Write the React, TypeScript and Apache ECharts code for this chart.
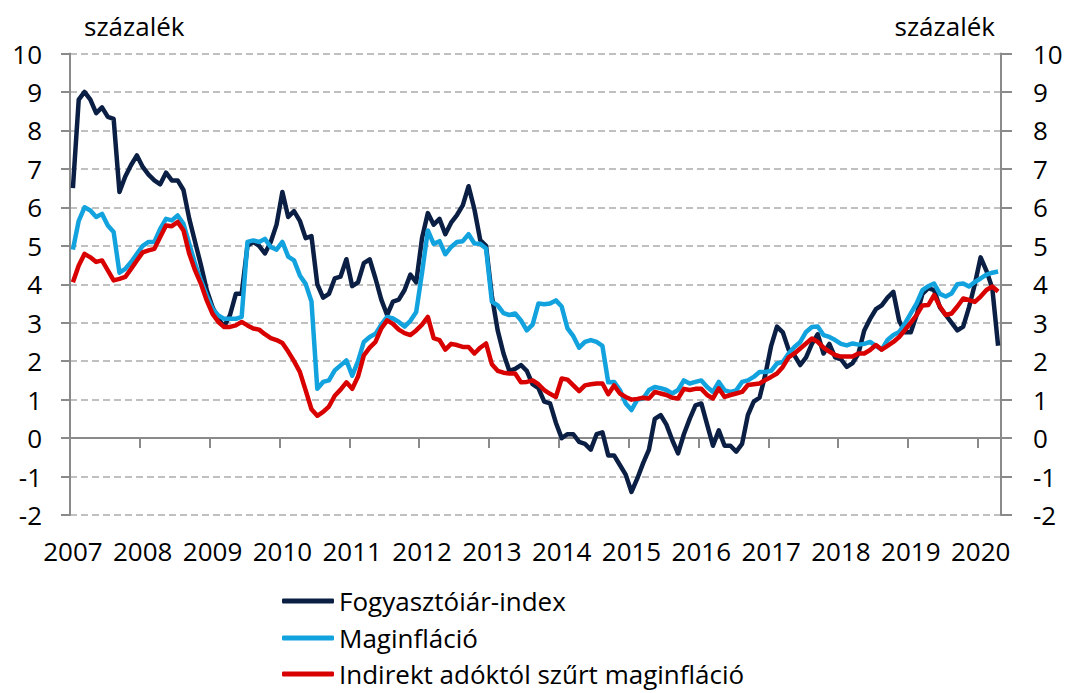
import React, { useEffect, useRef } from "react";
import * as echarts from "echarts";

// Monthly categories: 2007-01 .. 2020-04
const months: string[] = [];
for (let y = 2007; y <= 2020; y++) {
  for (let m = 1; m <= 12; m++) {
    if (y === 2020 && m > 4) break;
    months.push(`${y}-${String(m).padStart(2, "0")}`);
  }
}

const yTicks = [-2, -1, 0, 1, 2, 3, 4, 5, 6, 7, 8, 9, 10];

const seriesNames = [
  "Fogyasztóiár-index",
  "Maginfláció",
  "Indirekt adóktól szűrt maginfláció",
];

// Fogyasztóiár-index
const cpi = [
  6.5, 8.8, 9.0, 8.8, 8.45, 8.6, 8.35, 8.3, 6.4, 6.8, 7.1, 7.35,
  7.05, 6.85, 6.7, 6.6, 6.9, 6.7, 6.7, 6.45, 5.7, 5.1, 4.5, 3.85,
  3.4, 3.1, 2.9, 3.2, 3.75, 3.75, 5.0, 5.1, 5.0, 4.8, 5.1, 5.55,
  6.4, 5.75, 5.9, 5.65, 5.2, 5.25, 4.0, 3.65, 3.75, 4.15, 4.2, 4.65,
  3.95, 4.05, 4.55, 4.65, 4.15, 3.6, 3.2, 3.55, 3.6, 3.85, 4.25, 4.05,
  5.2, 5.85, 5.55, 5.7, 5.3, 5.6, 5.8, 6.05, 6.55, 5.95, 5.15, 5.0,
  3.7, 2.8, 2.2, 1.75, 1.8, 1.9, 1.75, 1.4, 1.3, 0.95, 0.9, 0.4,
  0.0, 0.1, 0.1, -0.1, -0.15, -0.3, 0.1, 0.15, -0.45, -0.45, -0.7, -0.95,
  -1.4, -1.05, -0.65, -0.3, 0.5, 0.6, 0.35, -0.05, -0.4, 0.1, 0.5, 0.85,
  0.9, 0.35, -0.2, 0.2, -0.2, -0.2, -0.35, -0.15, 0.6, 0.95, 1.05, 1.65,
  2.4, 2.9, 2.75, 2.3, 2.15, 1.9, 2.1, 2.45, 2.7, 2.2, 2.45, 2.1,
  2.05, 1.85, 1.95, 2.2, 2.8, 3.1, 3.35, 3.45, 3.65, 3.8, 3.05, 2.75,
  2.75, 3.2, 3.75, 3.9, 3.85, 3.4, 3.2, 3.0, 2.8, 2.9, 3.4, 4.0,
  4.7, 4.35, 3.9, 2.4,
];

// Maginfláció
const core = [
  4.9, 5.65, 6.0, 5.92, 5.75, 5.83, 5.53, 5.36, 4.3, 4.4, 4.58, 4.79,
  5.0, 5.1, 5.1, 5.44, 5.7, 5.66, 5.79, 5.57, 5.05, 4.53, 4.1, 3.71,
  3.36, 3.19, 3.1, 3.1, 3.1, 3.15, 5.1, 5.14, 5.1, 5.18, 4.97, 4.9,
  5.1, 4.72, 4.62, 4.23, 4.01, 3.55, 1.28, 1.46, 1.5, 1.76, 1.89, 2.02,
  1.62, 2.0, 2.5, 2.63, 2.71, 2.95, 3.15, 3.11, 3.02, 2.9, 3.05, 3.28,
  4.3, 5.4, 5.05, 5.12, 4.78, 4.97, 5.1, 5.12, 5.3, 5.06, 5.05, 4.93,
  3.55, 3.45, 3.25, 3.2, 3.24, 3.06, 2.8, 2.95, 3.5, 3.48, 3.5, 3.58,
  3.42, 2.85, 2.65, 2.35, 2.5, 2.55, 2.5, 2.4, 1.45, 1.46, 1.25, 0.9,
  0.73, 1.0, 1.03, 1.25, 1.33, 1.3, 1.25, 1.16, 1.25, 1.5, 1.42, 1.46,
  1.5, 1.33, 1.2, 1.46, 1.24, 1.2, 1.24, 1.46, 1.5, 1.59, 1.72, 1.72,
  1.75, 1.94, 1.98, 2.2, 2.37, 2.5, 2.76, 2.89, 2.9, 2.68, 2.63, 2.55,
  2.45, 2.41, 2.46, 2.43, 2.45, 2.5, 2.4, 2.3, 2.55, 2.68, 2.76, 2.98,
  3.24, 3.5, 3.85, 3.95, 4.02, 3.75, 3.68, 3.76, 4.0, 4.02, 3.94, 4.06,
  4.15, 4.25, 4.3, 4.33,
];

// Indirekt adóktól szűrt maginfláció
const coreTax = [
  4.05, 4.49, 4.79, 4.7, 4.58, 4.62, 4.36, 4.1, 4.14, 4.19, 4.4, 4.62,
  4.83, 4.88, 4.92, 5.23, 5.53, 5.51, 5.62, 5.4, 4.79, 4.36, 4.01, 3.58,
  3.23, 3.02, 2.89, 2.89, 2.93, 3.02, 2.93, 2.85, 2.82, 2.7, 2.6, 2.55,
  2.47, 2.25, 2.0, 1.72, 1.24, 0.75, 0.58, 0.68, 0.82, 1.1, 1.26, 1.45,
  1.28, 1.6, 2.15, 2.35, 2.5, 2.85, 3.06, 2.97, 2.82, 2.73, 2.68, 2.8,
  2.95, 3.15, 2.6, 2.55, 2.3, 2.45, 2.42, 2.37, 2.37, 2.2, 2.35, 2.46,
  1.92, 1.75, 1.7, 1.68, 1.68, 1.45, 1.46, 1.5, 1.4, 1.25, 1.15, 1.07,
  1.55, 1.52, 1.37, 1.22, 1.37, 1.4, 1.42, 1.42, 1.14, 1.37, 1.16, 1.07,
  1.0, 1.02, 1.05, 1.03, 1.2, 1.16, 1.12, 1.05, 1.03, 1.28, 1.25, 1.28,
  1.28, 1.12, 1.03, 1.29, 1.07, 1.12, 1.16, 1.2, 1.38, 1.4, 1.42, 1.51,
  1.59, 1.68, 1.85, 2.1, 2.2, 2.33, 2.46, 2.59, 2.5, 2.35, 2.25, 2.16,
  2.12, 2.12, 2.12, 2.2, 2.2, 2.29, 2.42, 2.3, 2.4, 2.5, 2.63, 2.81,
  3.0, 3.2, 3.45, 3.46, 3.72, 3.42, 3.2, 3.24, 3.42, 3.63, 3.59, 3.54,
  3.68, 3.85, 3.94, 3.81,
];

const colors = ["#0b1f45", "#12a2de", "#d90000"];
const legendTops = [588, 625, 661];
const FONT = "'Open Sans', sans-serif";
const FS = 26;
const AXIS_COLOR = "#8a8a8a";

export default function App() {
  const ref = useRef<HTMLDivElement>(null);

  useEffect(() => {
    if (!ref.current) return;
    const chart = echarts.init(ref.current, undefined, { renderer: "svg" });
    const isJan = (index: number) => index % 12 === 0;

    const yAxisBase = (position: "left" | "right", margin: number, tickLen: number, grid: boolean) => ({
      type: "value" as const,
      position,
      min: yTicks[0],
      max: yTicks[yTicks.length - 1],
      interval: 1,
      axisLine: { show: true, lineStyle: { color: AXIS_COLOR, width: 2 } },
      axisTick: { show: true, length: tickLen, lineStyle: { color: AXIS_COLOR, width: 2 } },
      axisLabel: { fontSize: FS, color: "#000", fontFamily: FONT, margin },
      splitLine: {
        show: grid,
        lineStyle: { color: "#c0c0c0", width: 2, type: [7, 4] },
      },
    });

    chart.setOption({
      animation: false,
      grid: { left: 70, right: 66, top: 53.5, bottom: 178, containLabel: false },
      graphic: [
        {
          type: "text",
          left: 84,
          top: 13,
          style: { text: "százalék", fontSize: FS, fontFamily: FONT, fill: "#000" },
        },
        {
          type: "text",
          right: 72,
          top: 13,
          style: { text: "százalék", fontSize: FS, fontFamily: FONT, fill: "#000" },
        },
      ],
      legend: seriesNames.map((name, i) => ({
        orient: "vertical",
        left: 282,
        top: legendTops[i],
        padding: 0,
        itemWidth: 52,
        itemHeight: 5,
        icon: "roundRect",
        data: [name],
        textStyle: { fontSize: FS, color: "#000", fontFamily: FONT, lineHeight: 26 },
      })),
      xAxis: [
        {
          type: "category",
          data: months,
          boundaryGap: true,
          position: "bottom",
          axisLine: { show: false, onZero: false },
          axisTick: { show: false },
          splitLine: { show: false },
          axisLabel: {
            interval: (index: number) => isJan(index),
            formatter: (v: string) => v.slice(0, 4),
            fontSize: FS,
            color: "#000",
            fontFamily: FONT,
            margin: 23,
          },
        },
        {
          type: "category",
          data: months,
          boundaryGap: true,
          position: "top",
          axisLine: { show: true, onZero: true, lineStyle: { color: AXIS_COLOR, width: 2 } },
          axisTick: {
            show: true,
            inside: true,
            length: 10,
            interval: (index: number) => isJan(index),
            lineStyle: { color: AXIS_COLOR, width: 2 },
          },
          axisLabel: { show: false },
          splitLine: { show: false },
        },
      ],
      yAxis: [yAxisBase("left", 28, 9, true), yAxisBase("right", 32, 11, false)],
      series: [cpi, core, coreTax].map((d, i) => ({
        name: seriesNames[i],
        type: "line",
        data: d,
        xAxisIndex: 0,
        yAxisIndex: 0,
        symbol: "none",
        showSymbol: false,
        color: colors[i],
        lineStyle: { width: 4.5, color: colors[i], join: "round" },
      })),
    });

    return () => chart.dispose();
  }, []);

  return (
    <div
      ref={ref}
      style={{ position: "fixed", left: 0, top: 0, width: 1067, height: 693, background: "#fff" }}
    />
  );
}
